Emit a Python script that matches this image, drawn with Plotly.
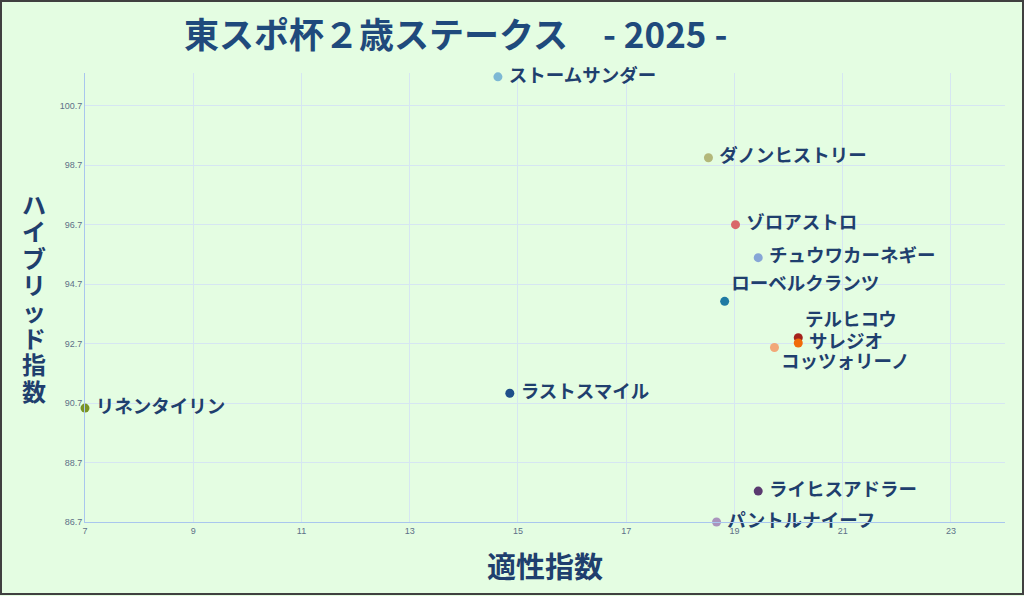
import plotly.graph_objects as go

# 東スポ杯2歳ステークス 2025 - 適性指数 vs ハイブリッド指数

horses = ['ストームサンダー', 'ダノンヒストリー', 'ゾロアストロ', 'チュウワカーネギー',
          'ローベルクランツ', 'テルヒコウ', 'サレジオ', 'コッツォリーノ',
          'ラストスマイル', 'リネンタイリン', 'ライヒスアドラー', 'パントルナイーフ']
aptitude = [14.63, 18.52, 19.02, 19.44, 18.82, 20.18, 20.18, 19.74, 14.85, 7.0, 19.44, 18.67]
hybrid = [101.67, 98.95, 96.7, 95.59, 94.12, 92.9, 92.72, 92.57, 91.03, 90.53, 87.74, 86.7]
colors = ['#7db8d4', '#b3b87a', '#d9676a', '#86a6d6', '#1f7aa3', '#a3221c',
          '#f06a0a', '#f2a878', '#1f4f8a', '#7a9425', '#5a3a70', '#a994bd']
label_pos = ['middle right', 'middle right', 'middle right', 'middle right',
             'top right', 'top right', 'middle right', 'bottom right',
             'middle right', 'middle right', 'middle right', 'middle right']

x_ticks = [7, 9, 11, 13, 15, 17, 19, 21, 23]
y_ticks = [86.7, 88.7, 90.7, 92.7, 94.7, 96.7, 98.7, 100.7]
y_title = 'ハイブリッド指数'

navy = '#1f3f6e'
jp_font = 'Noto Sans CJK JP'

fig = go.Figure()
for name, xv, yv, c, pos in zip(horses, aptitude, hybrid, colors, label_pos):
    label = ' ' + name if pos == 'middle right' else name
    fig.add_trace(go.Scatter(
        x=[xv], y=[yv], mode='markers+text', text=[label], textposition=pos,
        marker=dict(size=9, color=c),
        textfont=dict(family=jp_font, size=18.5, color=navy, weight='bold'),
        cliponaxis=False, showlegend=False, name=name,
    ))

L, R, T, B = 85, 19, 73, 74
W, H = 1024, 596
pw, ph = W - L - R, H - T - B

# vertical axis title, one character per line
annots = [dict(text=ch, xref='paper', yref='paper',
               x=-(L - 34) / pw, y=1 - (204 + 26.6 * i - T) / ph, showarrow=False,
               xanchor='center', yanchor='middle',
               font=dict(family=jp_font, size=24, color=navy, weight='bold'))
          for i, ch in enumerate(y_title)]
annots.append(dict(text='適性指数', xref='paper', yref='paper', x=0.5, y=-(565 - 522) / ph,
                   showarrow=False, yanchor='middle',
                   font=dict(family=jp_font, size=29, color=navy, weight='bold')))

fig.update_layout(
    width=W, height=H,
    margin=dict(l=L, r=R, t=T, b=B),
    paper_bgcolor='#e4fde2',
    plot_bgcolor='#e4fde2',
    title=dict(text='東スポ杯２歳ステークス　- 2025 -', x=0.445, xanchor='center',
               y=1 - 36 / H, yanchor='middle',
               font=dict(family=jp_font, size=35, color='#1f4a7c', weight='bold')),
    xaxis=dict(range=[7, 24], tickvals=x_ticks, showgrid=True, gridcolor='#d6e6f2',
               showline=True, linecolor='#a9c6ee', zeroline=False, ticks='',
               tickfont=dict(family='Liberation Sans Narrow, Arial', size=9, color='#5d7088')),
    yaxis=dict(range=[86.7, 101.8], tickvals=y_ticks, showgrid=True, gridcolor='#d6e6f2',
               showline=True, linecolor='#a9c6ee', zeroline=False, ticks='',
               tickformat='.1f',
               tickfont=dict(family='Liberation Sans Narrow, Arial', size=9, color='#5d7088')),
    annotations=annots,
    shapes=[dict(type='rect', xref='paper', yref='paper',
                 x0=-(L - 1) / pw, x1=1 + (R - 1) / pw,
                 y0=-(B - 2) / ph, y1=1 + (T - 1) / ph,
                 line=dict(color='#404040', width=2), layer='below')],
)

fig.write_html("out.html", config={'displayModeBar': False},
               post_script="document.body.style.margin='0';")
